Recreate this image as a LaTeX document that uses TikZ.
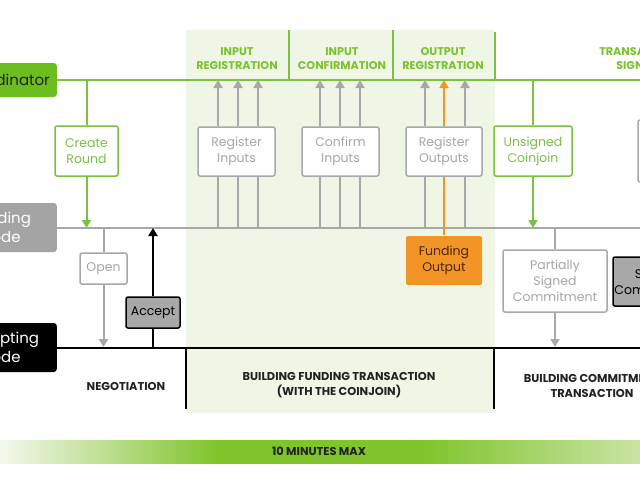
\documentclass[tikz,border=0pt]{standalone}
\usepackage{fontspec}
\setmainfont{Poppins}
\usetikzlibrary{arrows.meta,calc}
\definecolor{cgreen}{HTML}{7AC143}
\definecolor{cfill}{HTML}{6CBD1F}
\definecolor{cshade}{HTML}{EFF6E6}
\definecolor{cgray}{HTML}{A8A8A8}
\definecolor{ctext}{HTML}{A6A6A6}
\definecolor{corange}{HTML}{F39427}
\definecolor{cbrown}{HTML}{4A2508}
\definecolor{gtitle}{HTML}{7CC12E}
\definecolor{nodegray}{HTML}{A4A4A4}
\definecolor{accgray}{HTML}{A8A8A8}
\definecolor{barg}{HTML}{7FC42B}
\definecolor{barl}{HTML}{F4F8EE}
\definecolor{barr}{HTML}{C9E4A3}
\definecolor{ctxt}{HTML}{222222}
\pgfdeclarehorizontalshading{barshade}{100bp}{color(0bp)=(barl); color(25bp)=(barl); color(42bp)=(barg); color(58bp)=(barg); color(75bp)=(barr); color(100bp)=(barr)}
\tikzset{
  box/.style={draw=cgray, line width=1.5, fill=white, rounded corners=2, font=\fontsize{12.5}{16}\selectfont, text=ctext, align=center, inner sep=0},
  gbox/.style={box, draw=cgreen, text=cgreen},
  darkbox/.style={box, draw=black, fill=accgray, text=black},
  obox/.style={box, draw=none, fill=corange, text=cbrown},
  actor/.style={rounded corners=3, font=\fontsize{15}{19}\selectfont, align=center, minimum height=49, inner xsep=7, inner ysep=0, text width=98, anchor=east},
  gline/.style={draw=cgreen, line width=2},
  garrow/.style={gline, -{Triangle[width=9,length=8]}},
  grline/.style={draw=cgray, line width=2},
  grarrow/.style={grline, -{Triangle[width=9,length=8]}},
  bline/.style={draw=black, line width=2},
  barrow/.style={bline, -{Triangle[width=9,length=8]}},
  oline/.style={draw=corange, line width=2},
  oarrow/.style={oline, -{Triangle[width=9,length=8]}},
  title/.style={font=\bfseries\fontsize{11.2}{14}\selectfont, text=gtitle, align=center},
  phase/.style={font=\bfseries\fontsize{11.4}{15}\selectfont, text=ctxt, align=center},
}
\begin{document}
\begin{tikzpicture}[x=1pt,y=-1pt]
\useasboundingbox (0,0) rectangle (640,480);
\clip (0,0) rectangle (640,480);
\fill[white] (0,0) rectangle (640,480);
% shaded phase
\fill[cshade] (186,30) rectangle (495,413);
% reference coordinates
\coordinate (cl) at (0,80);
\coordinate (bl) at (0,228);
\coordinate (al) at (0,348);
\coordinate (cR) at (640,80);
\coordinate (bR) at (640,228);
\coordinate (aR) at (640,348);
% actors
\node[actor, fill=cfill, text=ctxt, text width=110, align=right, minimum height=34] (coord) at (57,80) {Coordinator};
\node[actor, fill=nodegray, text=white] (fund) at (57,227.5) {Funding\\Node};
\node[actor, fill=black, text=white] (acc) at (57,347.5) {Accepting\\Node};
% main lines
\draw[gline] (coord.east) -- (cR);
\draw[grline] (fund.east |- bl) -- (bR);
\draw[bline] (acc.east |- al) -- (aR);
% column separators
\coordinate (s1) at (289,30);
\coordinate (s2) at (393,30);
\coordinate (s3) at (495,32);
\draw[gline] (s1) -- (s1 |- cl);
\draw[gline] (s2) -- (s2 |- cl);
\draw[gline] (s3) -- (s3 |- cl);
\coordinate (v1) at (186,409);
\coordinate (v2) at (494,409);
\draw[bline] (v1 |- al) -- (v1);
\draw[bline] (v2 |- al) -- (v2);
% titles
\node[title] (t1) at (237,58.5) {INPUT\\REGISTRATION};
\node[title] (t2) at (342,58.5) {INPUT\\CONFIRMATION};
\node[title] (t3) at (443,58.5) {OUTPUT\\REGISTRATION};
\node[title] (t4) at (640,58.5) {TRANSACTION\\SIGNING};
% boxes
\node[gbox, minimum width=63, minimum height=50] (create) at (86.5,151) {Create\\Round};
\node[box, minimum width=77, minimum height=49] (ri) at (236.5,151.5) {Register\\Inputs};
\node[box, minimum width=77, minimum height=49] (ci) at (340.5,151.5) {Confirm\\Inputs};
\node[box, minimum width=76, minimum height=49] (ro) at (444,151.5) {Register\\Outputs};
\node[gbox, minimum width=78, minimum height=50] (uc) at (533,151) {Unsigned\\Coinjoin};
\node[box, minimum width=102, minimum height=62] (tr) at (689,151) {};
\node[box, minimum width=47, minimum height=31] (open) at (103.5,268.5) {Open};
\node[darkbox, minimum width=54, minimum height=31] (accept) at (153,312.5) {Accept};
\node[obox, minimum width=76, minimum height=49] (fo) at (444,260.5) {Funding\\Output};
\node[box, minimum width=104, minimum height=62] (psc) at (555,281) {Partially\\Signed\\Commitment};
\node[darkbox, minimum width=87, minimum height=49] (sc) at (656.5,281.5) {Signed\\Commitment};
% coordinator connectors
\draw[gline] (create.north |- cl) -- (create.north);
\draw[garrow] (create.south) -- (create.south |- bl);
\draw[gline] (uc.north |- cl) -- (uc.north);
\draw[garrow] (uc.south) -- (uc.south |- bl);
% registration arrows
\foreach \n/\d in {ri/-18.5, ri/1.5, ri/21.5, ci/-20.5, ci/-0.5, ci/19.5, ro/-19, ro/21}{
  \draw[grline] ([xshift=\d]\n.south |- bl) -- ([xshift=\d]\n.south);
  \draw[grarrow] ([xshift=\d]\n.north) -- ([xshift=\d]\n.north |- cl);
}
\draw[oline] (fo.north) -- (ro.south);
\draw[oarrow] (ro.north) -- (ro.north |- cl);
% negotiation
\draw[grline] (open.north |- bl) -- (open.north);
\draw[grarrow, shorten >=1] (open.south) -- (open.south |- al);
\draw[bline] (accept.south |- al) -- (accept.south);
\draw[barrow] (accept.north) -- (accept.north |- bl);
% commitment
\draw[grline] (psc.north |- bl) -- (psc.north);
\draw[grarrow, shorten >=1] (psc.south) -- (psc.south |- al);
% phase labels
\node[phase] (p1) at (126,386) {NEGOTIATION};
\node[phase] (p2) at (339,385.5) {BUILDING FUNDING TRANSACTION\\(WITH THE COINJOIN)};
\node[phase] (p3) at (592,385.5) {BUILDING COMMITMENT\\TRANSACTION};
% time bar
\shade[shading=barshade] (0,440) rectangle (640,463);
\node[phase] (bar) at (319,451.5) {10 MINUTES MAX};
\end{tikzpicture}
\end{document}
